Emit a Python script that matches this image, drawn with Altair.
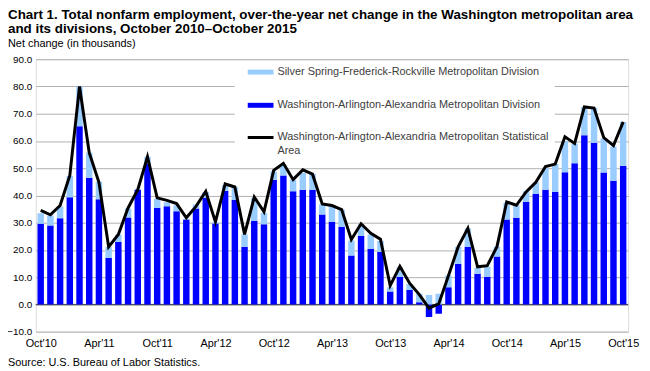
import json
import altair as alt
import pandas as pd

# Month categories, Oct 2010 .. Oct 2015
MONTH_NAMES = ["Oct", "Nov", "Dec", "Jan", "Feb", "Mar", "Apr", "May", "Jun", "Jul", "Aug", "Sep"]
months = []
for k in range(61):
    yr = 2010 + (k + 9) // 12
    months.append(f"{MONTH_NAMES[k % 12]} {yr}")

# Washington-Arlington-Alexandria Metropolitan Division (thousands)
waa_division = [29.6, 29.0, 31.6, 39.3, 65.4, 46.5, 38.6, 17.0, 22.9, 31.9,
                42.1, 51.5, 35.4, 36.0, 34.2, 31.2, 35.2, 39.1, 29.7, 41.7,
                38.3, 21.1, 30.6, 29.4, 45.8, 47.3, 41.5, 42.1, 42.1, 33.0,
                30.3, 28.4, 18.0, 25.1, 20.3, 19.3, 4.7, 10.2, 5.3, 0.8,
                -4.6, -3.4, 6.3, 14.8, 21.1, 11.3, 10.2, 17.6, 31.2, 31.8,
                37.7, 40.5, 42.1, 41.3, 48.5, 51.8, 62.1, 59.3, 48.4, 45.4,
                50.8]
# Silver Spring-Frederick-Rockville Metropolitan Division (thousands)
ssfr_division = [3.9, 3.6, 4.3, 7.8, 14.6, 9.2, 6.4, 4.1, 2.8, 3.3,
                 0.4, 2.7, 3.4, 1.5, 2.2, 0.2, 1.5, 2.2, 0.5, 2.0,
                 4.7, 4.6, 8.5, 4.2, 3.0, 3.9, 4.3, 6.1, 5.8, 3.7,
                 5.7, 6.4, 5.5, 4.3, 5.4, 4.0, 1.6, 3.4, 2.2, 3.1,
                 3.5, 3.9, 4.3, 6.3, 6.8, 2.2, 3.6, 3.6, 6.1, 4.6,
                 3.8, 4.3, 8.1, 10.2, 11.5, 7.3, 10.4, 12.8, 12.5, 12.5,
                 16.2]
# Washington-Arlington-Alexandria Metropolitan Statistical Area (thousands)
msa_total = [34.5, 32.9, 36.3, 47.3, 80.0, 55.7, 44.8, 21.1, 25.7, 35.4,
             42.1, 54.2, 39.1, 38.2, 37.0, 31.8, 36.0, 41.5, 30.3, 44.2,
             43.1, 25.7, 39.4, 34.0, 49.2, 51.8, 45.8, 49.4, 47.8, 36.9,
             36.3, 34.8, 23.8, 29.6, 26.1, 23.9, 6.9, 14.0, 7.8, 3.6,
             -1.4, 0.2, 10.5, 21.1, 27.9, 13.8, 14.2, 21.2, 37.6, 36.4,
             41.3, 44.8, 50.6, 51.5, 61.5, 59.1, 72.5, 72.1, 61.2, 58.3,
             67.0]

tick_labels = ["Oct'10", "Apr'11", "Oct'11", "Apr'12", "Oct'12", "Apr'13",
               "Oct'13", "Apr'14", "Oct'14", "Apr'15", "Oct'15"]
tick_positions = [0, 6, 12, 18, 24, 30, 36, 42, 48, 54, 60]
y_ticks = [-10, 0, 10, 20, 30, 40, 50, 60, 70, 80, 90]

series_names = ["Silver Spring-Frederick-Rockville Metropolitan Division",
                "Washington-Arlington-Alexandria Metropolitan Division",
                "Washington-Arlington-Alexandria Metropolitan Statistical Area"]
LIGHT = "#99CCFF"
DARK = "#0000FF"
FONT = "Liberation Sans"

rows = []
for i in range(61):
    rows.append({"idx": i, "month": months[i], "series": series_names[1],
                 "value": waa_division[i], "ord": 0})
    rows.append({"idx": i, "month": months[i], "series": series_names[0],
                 "value": ssfr_division[i], "ord": 1})
bars_df = pd.DataFrame(rows)
line_df = pd.DataFrame({"idx": list(range(61)), "month": months, "value": msa_total})

x_enc = alt.X("idx:Q",
              scale=alt.Scale(domain=[0, 60], nice=False, zero=False),
              axis=alt.Axis(values=tick_positions,
                            labelExpr=json.dumps(tick_labels) + "[round(datum.value / 6)]",
                            title=None, grid=False, ticks=False, domain=False,
                            labelPadding=6, labelFontSize=11, labelColor="#000000",
                            labelFont=FONT))
y_axis = alt.Axis(values=y_ticks, format=".1f", title=None, grid=True,
                  gridColor="#B0B0B0", gridWidth=1, ticks=False, domain=False,
                  labelPadding=4, labelFontSize=10, labelColor="#000000",
                  labelFont=FONT)
y_scale = alt.Scale(domain=[-10, 90], nice=False, zero=False)

zero_rule = alt.Chart(pd.DataFrame({"value": [0]})).mark_rule(
    color="#404040", strokeWidth=1).encode(
    y=alt.Y("value:Q", scale=y_scale, axis=y_axis))

bars = alt.Chart(bars_df).mark_bar(width=6.5, clip=True).encode(
    x=x_enc,
    y=alt.Y("value:Q", scale=y_scale, axis=y_axis, stack="zero"),
    color=alt.Color("series:N", scale=alt.Scale(domain=series_names[:2], range=[LIGHT, DARK]),
                    legend=None),
    order=alt.Order("ord:Q"),
)

line = alt.Chart(line_df).mark_line(color="#000000", strokeWidth=3, strokeJoin="miter").encode(
    x=x_enc,
    y=alt.Y("value:Q", scale=y_scale, axis=y_axis),
)

one = pd.DataFrame({"k": [0]})
legend_box = alt.Chart(one).mark_rect(fill="white", stroke=None).encode(
    x=alt.value(201), x2=alt.value(524), y=alt.value(2), y2=alt.value(99))

sw_light = alt.Chart(one).mark_rect(fill=LIGHT).encode(
    x=alt.value(214), x2=alt.value(240), y=alt.value(10.5), y2=alt.value(15.5))
sw_dark = alt.Chart(one).mark_rect(fill=DARK).encode(
    x=alt.value(214), x2=alt.value(240), y=alt.value(44), y2=alt.value(49))
sw_line = alt.Chart(one).mark_rule(color="#000000", strokeWidth=3).encode(
    x=alt.value(214), x2=alt.value(240), y=alt.value(79))


def txt(text, x, y, size=11, weight="normal", color="#000000", baseline="middle"):
    return alt.Chart(pd.DataFrame({"t": [text]})).mark_text(
        align="left", baseline=baseline, fontSize=size, fontWeight=weight,
        color=color, font=FONT).encode(text="t:N", x=alt.value(x), y=alt.value(y))


LEG_C = "#404040"
leg1 = txt(series_names[0], 244, 13, color=LEG_C)
leg2 = txt(series_names[1], 244, 46.5, color=LEG_C)
leg3a = txt("Washington-Arlington-Alexandria Metropolitan Statistical", 244, 79, color=LEG_C)
leg3b = txt("Area", 244, 92.5, color=LEG_C)

title1 = txt("Chart 1. Total nonfarm employment, over-the-year net change in the Washington metropolitan area",
             -28, -40.5, size=13.5, weight="bold", baseline="alphabetic")
title2 = txt("and its divisions, October 2010\u2013October 2015",
             -28, -26, size=13.5, weight="bold", baseline="alphabetic")
ytitle = txt("Net change (in thousands)", -28, -15, size=11)
source = txt("Source: U.S. Bureau of Labor Statistics.", -28, 307, size=11)

chart = alt.layer(
    zero_rule, bars, line, legend_box, sw_light, sw_dark, sw_line,
    leg1, leg2, leg3a, leg3b, title1, title2, ytitle, source,
).properties(
    width=598, height=275,
    autosize=alt.AutoSizeParams(type="none"),
    padding={"left": 28, "top": 50, "right": 14, "bottom": 38},
).configure_view(
    stroke="#868686", strokeWidth=2,
).configure(font=FONT)

chart.save("out.html", embed_options={"renderer": "svg", "actions": False})
